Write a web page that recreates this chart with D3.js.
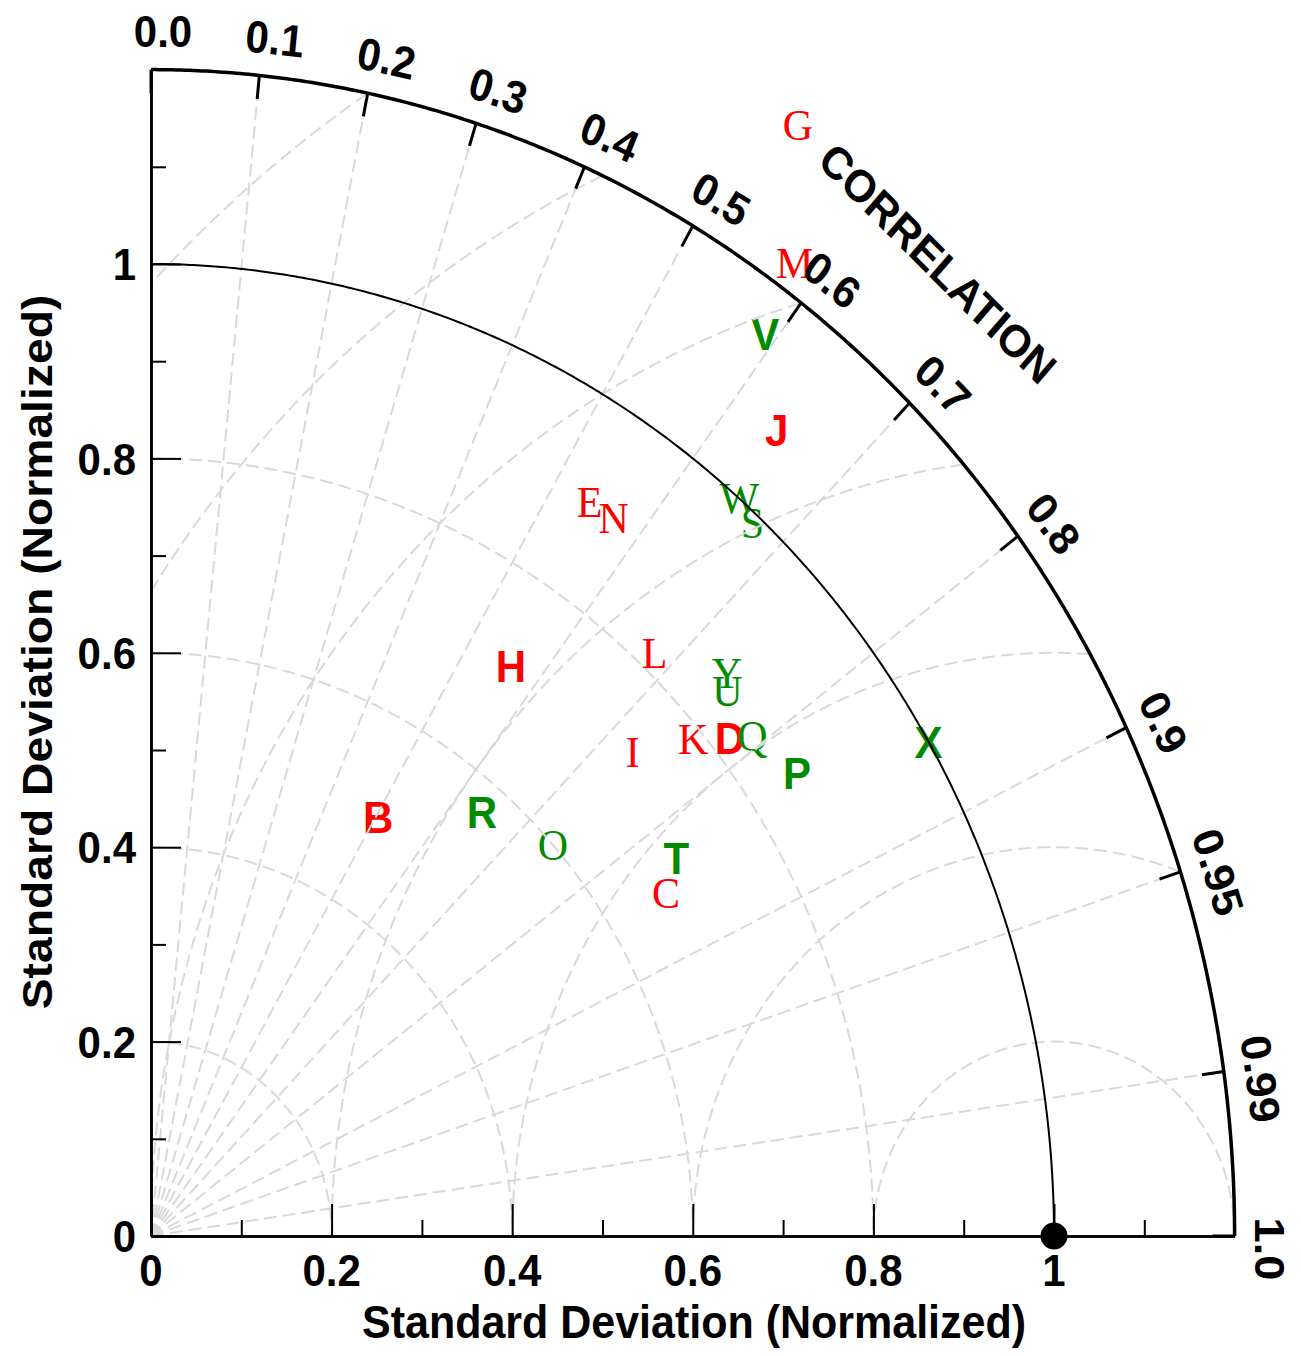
<!DOCTYPE html>
<html><head><meta charset="utf-8">
<script src="https://cdn.jsdelivr.net/npm/d3@7"></script>
<style>body{margin:0;background:#fff} svg{display:block}</style>
</head><body>
<svg id="chart" width="1301" height="1356"></svg>
<script>
// ---- data ----
const redLabels   = ["B","C","D","E","G","H","I","J","K","L","M","N"];
const redStd      = [0.499,0.671,0.821,0.898,1.349,0.709,0.730,1.081,0.789,0.819,1.229,0.899];
const redCorr     = [0.504,0.850,0.781,0.541,0.531,0.562,0.731,0.641,0.761,0.681,0.580,0.570];
const greenLabels = ["O","P","Q","R","S","T","U","V","W","X","Y"];
const greenStd    = [0.600,0.860,0.842,0.570,0.991,0.700,0.850,1.151,1.001,1.000,0.862];
const greenCorr   = [0.742,0.832,0.791,0.643,0.672,0.831,0.751,0.591,0.651,0.861,0.740];
const corrTicks      = [0,0.1,0.2,0.3,0.4,0.5,0.6,0.7,0.8,0.9,0.95,0.99,1.0];
const corrTickLabels = ["0.0","0.1","0.2","0.3","0.4","0.5","0.6","0.7","0.8","0.9","0.95","0.99","1.0"];
const corrGrid       = [0.1,0.2,0.3,0.4,0.5,0.6,0.7,0.8,0.9,0.95,0.99];
const stdTicks       = [0,0.2,0.4,0.6,0.8,1];
const stdTickLabels  = ["0","0.2","0.4","0.6","0.8","1"];
const stdMinorTicks  = [0.1,0.3,0.5,0.7,0.9,1.1];
const stdArcs        = [0.2,0.4,0.6,0.8];
const rmsArcs        = [0.2,0.4,0.6,0.8,1.0,1.2,1.4];
const refStd = 1.0, maxStd = 1.2;
const axisTitle = "Standard Deviation (Normalized)";
const corrTitle = "CORRELATION";

// ---- styles ----
const boldLetters = new Set(["B","D","H","J","P","R","T","V","X"]);
const SANS = "'Liberation Sans', Arial, Helvetica, sans-serif";
const SERIF = "'Liberation Serif', 'Times New Roman', Times, serif";
const RED = "#ff0000", GREEN = "#008b00", GRID = "#d9d9d9";
const k = 972/903; // vertical stretch of the picture

const svg = d3.select("#chart");
const x = d3.scaleLinear().domain([0, maxStd]).range([151, 151 + maxStd*903]);
const y = d3.scaleLinear().domain([0, maxStd]).range([1236, 1236 - maxStd*972]);
const line = d3.line().x(d => x(d[0])).y(d => y(d[1]));
const deg = Math.PI/180;

// ---- markers ----
function drawSeries(labels, stds, corrs, color) {
  const data = labels.map((l,i) => ({l, s: stds[i], c: corrs[i]}));
  svg.append("g").selectAll("text").data(data).join("text")
    .attr("transform", d => {
      const u = d.s*d.c, v = d.s*Math.sqrt(1 - d.c*d.c);
      return `translate(${x(u)},${y(v)}) scale(1,${k})`;
    })
    .attr("text-anchor", "middle")
    .attr("dy", d => boldLetters.has(d.l) ? "0.36em" : "0.34em")
    .attr("font-family", d => boldLetters.has(d.l) ? SANS : SERIF)
    .attr("font-weight", d => boldLetters.has(d.l) ? "bold" : "normal")
    .attr("font-size", 42)
    .attr("fill", color)
    .text(d => d.l);
}
drawSeries(redLabels, redStd, redCorr, RED);
drawSeries(greenLabels, greenStd, greenCorr, GREEN);

// ---- dashed grid ----
const grid = svg.append("g").attr("fill","none").attr("stroke", GRID)
  .attr("stroke-width", 2).attr("stroke-dasharray", "13,6");
// radial correlation lines
grid.selectAll("path.rad").data(corrGrid).join("path").attr("class","rad")
  .attr("d", c => line([[0,0],[maxStd*c, maxStd*Math.sqrt(1-c*c)]]));
// std arcs about origin
grid.selectAll("path.std").data(stdArcs).join("path").attr("class","std")
  .attr("d", r => line(d3.range(0, 401).map(i => {
    const t = (90 - i*90/400)*deg; return [r*Math.cos(t), r*Math.sin(t)];
  })));
// RMS arcs about the reference point
const rmsLine = d3.line().defined(d => d[0] >= -1e-9 && Math.hypot(d[0], d[1]) <= maxStd + 1e-9)
  .x(d => x(Math.max(0,d[0]))).y(d => y(d[1]));
grid.selectAll("path.rms").data(rmsArcs).join("path").attr("class","rms")
  .attr("d", r => rmsLine(d3.range(0, 2001).map(i => {
    const t = i*180/2000*deg; return [refStd + r*Math.cos(t), r*Math.sin(t)];
  })));

// ---- solid arcs ----
const arcPts = r => d3.range(0, 401).map(i => { const t = i*90/400*deg; return [r*Math.cos(t), r*Math.sin(t)]; });
svg.append("path").attr("d", line(arcPts(refStd))).attr("fill","none").attr("stroke","#000").attr("stroke-width", 2);
svg.append("path").attr("d", line(arcPts(maxStd))).attr("fill","none").attr("stroke","#000").attr("stroke-width", 3.5);

// ---- axes ----
const xAxisMajor = d3.axisBottom(x).tickValues(stdTicks).tickSizeInner(-32).tickSizeOuter(0).tickFormat("");
const xAxisMinor = d3.axisBottom(x).tickValues(stdMinorTicks).tickSizeInner(-16).tickSizeOuter(0).tickFormat("");
const yAxisMajor = d3.axisLeft(y).tickValues(stdTicks).tickSizeInner(-30).tickSizeOuter(0).tickFormat("");
const yAxisMinor = d3.axisLeft(y).tickValues(stdMinorTicks).tickSizeInner(-15).tickSizeOuter(0).tickFormat("");
function styleAxis(g) {
  g.select(".domain").attr("stroke","#000").attr("stroke-width", 2.5);
  g.selectAll(".tick line").attr("stroke","#000").attr("stroke-width", 2);
}
svg.append("g").attr("transform","translate(0,1236)").call(xAxisMinor).call(styleAxis);
svg.append("g").attr("transform","translate(0,1236)").call(xAxisMajor).call(styleAxis);
svg.append("g").attr("transform","translate(151,0)").call(yAxisMinor).call(styleAxis);
svg.append("g").attr("transform","translate(151,0)").call(yAxisMajor).call(styleAxis);

// x tick labels
svg.append("g").selectAll("text").data(stdTicks).join("text")
  .attr("transform", (d) => `translate(${x(d)},1270) scale(1,${k})`)
  .attr("text-anchor","middle").attr("dy","0.36em")
  .attr("font-family", SANS).attr("font-weight","bold").attr("font-size", 42)
  .text((d,i) => stdTickLabels[i]);
// y tick labels
svg.append("g").selectAll("text").data(stdTicks).join("text")
  .attr("transform", (d) => `translate(136,${y(d)}) scale(1,${k})`)
  .attr("text-anchor","end").attr("dy","0.36em")
  .attr("font-family", SANS).attr("font-weight","bold").attr("font-size", 42)
  .text((d,i) => stdTickLabels[i]);

// ---- correlation ticks and labels ----
const tickLen = 22/903;
svg.append("g").selectAll("path").data(corrTicks).join("path")
  .attr("d", c => {
    const s = Math.sqrt(Math.max(0,1-c*c));
    return line([[maxStd*c, maxStd*s], [(maxStd - tickLen)*c, (maxStd - tickLen)*s]]);
  })
  .attr("stroke","#000").attr("stroke-width", 3).attr("fill","none");
const radOff = 36/903, tanOff = 12/903;
svg.append("g").selectAll("text").data(corrTicks).join("text")
  .attr("transform", c => {
    const phi = Math.acos(c), cs = Math.cos(phi), sn = Math.sin(phi);
    const u = (maxStd + radOff)*cs + tanOff*sn;
    const v = (maxStd + radOff)*sn - tanOff*cs;
    return `translate(${x(u)},${y(v)}) scale(1,${k}) rotate(${90 - phi/deg})`;
  })
  .attr("text-anchor","middle").attr("dy","0.36em")
  .attr("font-family", SANS).attr("font-weight","bold").attr("font-size", 42)
  .text((c,i) => corrTickLabels[i]);

// ---- titles ----
svg.append("text").attr("transform", `translate(694,1338) scale(1,${k})`)
  .attr("text-anchor","middle").attr("font-family", SANS).attr("font-weight","bold")
  .attr("font-size", 43).text(axisTitle);
svg.append("text").attr("transform", `translate(52,652) scale(1,${k}) rotate(-90)`)
  .attr("text-anchor","middle").attr("font-family", SANS).attr("font-weight","bold")
  .attr("font-size", 43).text(axisTitle);
svg.append("text").attr("transform", `translate(938,263) scale(1,${k}) rotate(${Math.atan(1/k)/deg})`)
  .attr("text-anchor","middle").attr("dy","0.36em").attr("font-family", SANS).attr("font-weight","bold")
  .attr("font-size", 42).text(corrTitle);

// ---- reference point ----
svg.append("circle").attr("cx", x(refStd)).attr("cy", y(0)).attr("r", 13.5).attr("fill","#000");
</script>
</body></html>
